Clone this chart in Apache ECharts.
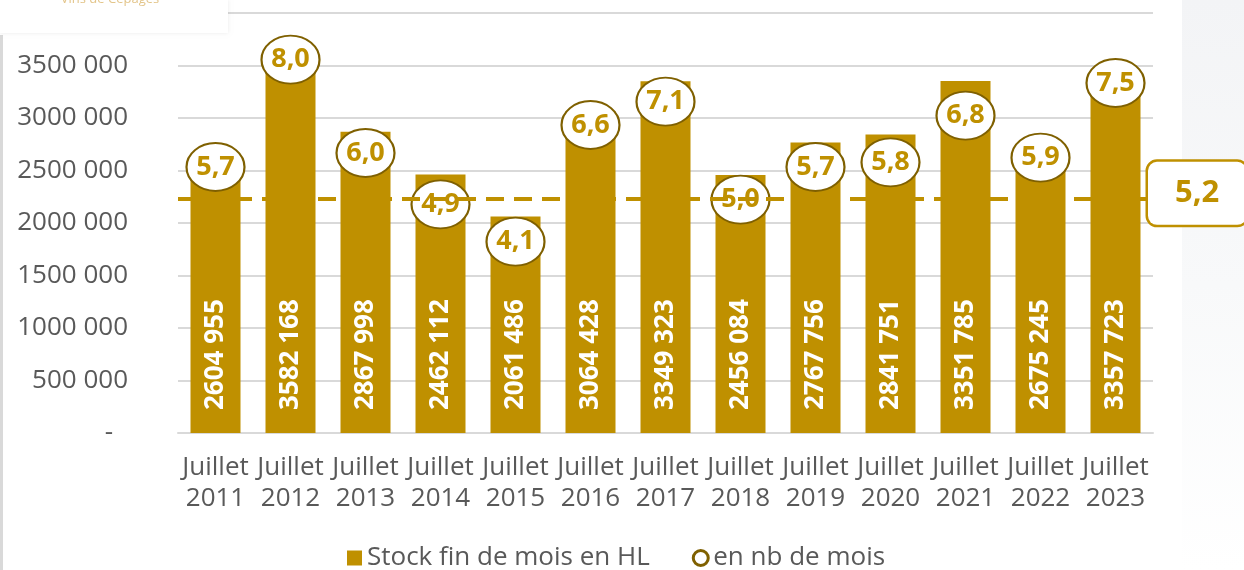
<!DOCTYPE html>
<html>
<head>
<meta charset="utf-8">
<script src="https://cdn.jsdelivr.net/npm/echarts@6.0.0/dist/echarts.min.js"></script>
<style>
  html, body { margin: 0; padding: 0; background: #fff; }
  #chart { width: 1244px; height: 570px; }
</style>
</head>
<body>
<div id="chart"></div>
<script>
// données
const annees = ['2011', '2012', '2013', '2014', '2015', '2016', '2017', '2018', '2019', '2020', '2021', '2022', '2023'];
const stockHL = [2604955, 3582168, 2867998, 2462112, 2061486, 3064428, 3349323, 2456084, 2767756, 2841751, 3351785, 2675245, 3357723];
const nbMois = [5.7, 8.0, 6.0, 4.9, 4.1, 6.6, 7.1, 5.0, 5.7, 5.8, 6.8, 5.9, 7.5];
const moyenneMois = 5.2;
const niveauLigneMoyenne = 2235000; // hauteur de la ligne pointillée sur l'axe des stocks
const ticksStock = [0, 500000, 1000000, 1500000, 2000000, 2500000, 3000000, 3500000, 4000000];

const OR = '#BF9000';
const OR_FONCE = '#7F6000';
const GRIS = '#595959';
const POLICE = '"Open Sans", "Noto Sans", sans-serif';

function fmtMilliers(v) {
  if (v === 0) return '-\u2007';
  const k = Math.floor(v / 1000);
  const r = String(v % 1000).padStart(3, '0');
  return k + ' ' + r;
}
function fmtMois(v) {
  return v.toFixed(1).replace('.', ',');
}

const chart = echarts.init(document.getElementById('chart'));

const option = {
  animation: false,
  textStyle: { fontFamily: POLICE },
  grid: { left: 178, right: 91, top: 12, bottom: 137 },
  legend: {
    left: 342,
    top: 540,
    itemGap: 42,
    itemWidth: 15,
    itemHeight: 15,
    textStyle: { fontSize: 26, color: GRIS, fontFamily: POLICE },
    data: [
      { name: 'Stock fin de mois en HL', icon: 'rect' },
      { name: 'en nb de mois', icon: 'circle',
        itemStyle: { color: '#fff', borderColor: OR_FONCE, borderWidth: 3 } }
    ]
  },
  xAxis: {
    type: 'category',
    data: annees,
    axisTick: { show: false },
    axisLine: { lineStyle: { color: '#D9D9D9', width: 2 } },
    axisLabel: {
      interval: 0,
      margin: 19,
      color: GRIS,
      fontSize: 26,
      lineHeight: 31,
      fontFamily: POLICE,
      formatter: a => 'Juillet\n' + a
    }
  },
  yAxis: [
    {
      type: 'value',
      min: ticksStock[0],
      max: ticksStock[ticksStock.length - 1],
      interval: ticksStock[1] - ticksStock[0],
      axisLine: { show: false },
      axisTick: { show: false },
      splitLine: { lineStyle: { color: '#D9D9D9', width: 2 } },
      axisLabel: {
        margin: 50,
        color: GRIS,
        fontSize: 26,
        fontFamily: POLICE,
        formatter: fmtMilliers
      }
    },
    {
      type: 'value',
      min: 0,
      max: 9,
      show: false,
      splitLine: { show: false }
    }
  ],
  series: [
    {
      name: 'Stock fin de mois en HL',
      type: 'bar',
      data: stockHL,
      barWidth: 50,
      itemStyle: { color: OR },
      label: {
        show: true,
        position: 'insideBottom',
        distance: 23,
        rotate: 90,
        align: 'left',
        verticalAlign: 'middle',
        color: '#fff',
        fontSize: 26,
        fontWeight: 'bold',
        fontFamily: POLICE,
        formatter: p => fmtMilliers(p.value)
      }
    },
    {
      name: 'en nb de mois',
      type: 'scatter',
      yAxisIndex: 1,
      data: nbMois,
      symbol: 'circle',
      symbolSize: [58, 48],
      z: 4,
      itemStyle: { color: '#fff', borderColor: OR_FONCE, borderWidth: 2, opacity: 1 },
      label: {
        show: true,
        position: 'inside',
        color: OR,
        fontSize: 27,
        fontWeight: 'bold',
        fontFamily: POLICE,
        formatter: p => fmtMois(p.value)
      }
    },
    {
      name: 'moyenne',
      type: 'line',
      data: [],
      z: 10,
      silent: true,
      markLine: {
        silent: true,
        symbol: ['none', 'none'],
        lineStyle: { color: OR, width: 4, type: [18, 10] },
        label: {
          show: true,
          position: 'end',
          distance: -5,
          offset: [0, -5],
          formatter: fmtMois(moyenneMois),
          color: OR,
          fontSize: 31,
          fontWeight: 'bold',
          fontFamily: POLICE,
          backgroundColor: '#fff',
          borderColor: OR,
          borderWidth: 2.5,
          borderRadius: 9,
          padding: [16, 27]
        },
        data: [{ yAxis: niveauLigneMoyenne }]
      }
    }
  ],
  graphic: [
    {
      type: 'rect',
      z: -10,
      shape: { x: 1182, y: 0, width: 62, height: 570 },
      style: {
        fill: new echarts.graphic.LinearGradient(0, 0, 0, 1, [
          { offset: 0, color: '#F3F4F6' },
          { offset: 0.5, color: '#F8F9FA' },
          { offset: 1, color: '#FFFFFF' }
        ])
      }
    },
    {
      type: 'rect',
      z: 100,
      shape: { x: 0, y: 35, width: 3, height: 535 },
      style: { fill: '#D9D9D9' }
    },
    {
      type: 'rect',
      z: 100,
      shape: { x: 0, y: 0, width: 228, height: 33 },
      style: { fill: '#fff', shadowBlur: 4, shadowColor: 'rgba(0,0,0,0.08)' }
    },
    {
      type: 'text',
      z: 101,
      style: {
        text: 'Vins de Cépages',
        x: 110,
        y: 6,
        align: 'center',
        verticalAlign: 'bottom',
        font: '13px "Open Sans", sans-serif',
        fill: '#E3C58A'
      }
    }
  ]
};

chart.setOption(option);
</script>
</body>
</html>
